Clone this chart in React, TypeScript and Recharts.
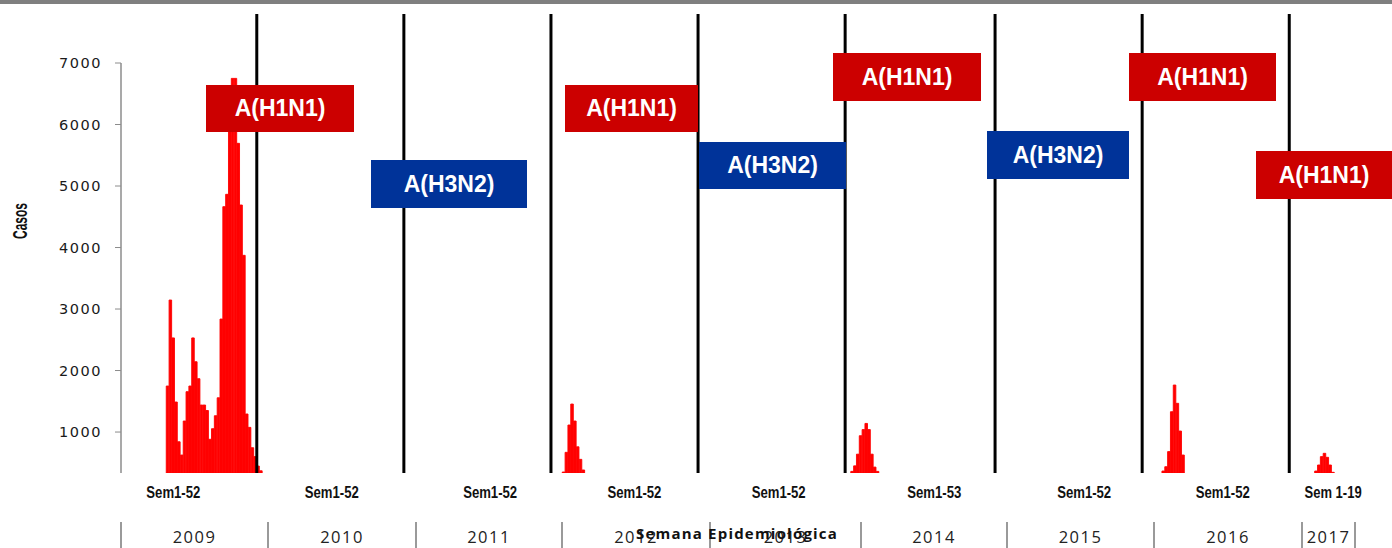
import React from 'react';
import { BarChart, Bar, XAxis, YAxis, ReferenceLine } from 'recharts';

// años y semanas epidemiológicas mostradas
const years = ['2009', '2010', '2011', '2012', '2013', '2014', '2015', '2016', '2017'];
const weeksPerYear = [52, 52, 52, 52, 52, 53, 52, 52, 19];
const firstWeekShown = [5, 1, 1, 1, 1, 1, 1, 1, 1];
const semLabels = ['Sem1-52', 'Sem1-52', 'Sem1-52', 'Sem1-52', 'Sem1-52', 'Sem1-53', 'Sem1-52', 'Sem1-52', 'Sem 1-19'];
const semLabelWeek = [23, 27, 31, 30, 29, 32, 32, 29, 16];

// casos por semana, desde la primera semana con casos de cada temporada
const cases2009 = [
  1748, 3146, 2530, 1488, 842, 626, 1179, 1656, 1748, 2530, 2143, 1867, 1439, 1439, 1350, 882,
  1054, 1265, 1557, 2837, 4664, 4865, 6250, 6750, 6750, 5694, 4691, 3873, 1293, 1076, 745, 600,
];
const cases2010 = [447, 370];
const cases2012 = [350, 670, 1114, 1455, 1179, 760, 556, 383];
const cases2014 = [360, 450, 640, 940, 1040, 1140, 1040, 640, 430, 360];
const cases2016 = [366, 436, 682, 1330, 1764, 1467, 1016, 626];
const cases2017 = [366, 464, 600, 654, 589, 464, 345];

const seasonStartWeek = [21, 1, 0, 5, 0, 3, 0, 8, 10];
const seasonCases = [cases2009, cases2010, [], cases2012, [], cases2014, [], cases2016, cases2017];

const yTicks = [1000, 2000, 3000, 4000, 5000, 6000, 7000];

const subtypeLabels = ['A(H1N1)', 'A(H3N2)', 'A(H1N1)', 'A(H3N2)', 'A(H1N1)', 'A(H3N2)', 'A(H1N1)', 'A(H1N1)'];
const subtypeKinds = ['h1', 'h3', 'h1', 'h3', 'h1', 'h3', 'h1', 'h1'];

const rows = years.flatMap((year, i) => {
  const out: { key: string; casos: number | null }[] = [];
  for (let w = firstWeekShown[i]; w <= weeksPerYear[i]; w++) {
    const list = seasonCases[i];
    const v = list.length ? list[w - seasonStartWeek[i]] : undefined;
    out.push({ key: `${year}-${w}`, casos: v ?? null });
  }
  return out;
});
const tickKeys = years.map((y, i) => `${y}-${semLabelWeek[i]}`);

// layout de las cajas de subtipo (px)
const boxes = [
  { left: 206, top: 85, width: 148, height: 47 },
  { left: 371, top: 160, width: 156, height: 48 },
  { left: 565, top: 85, width: 133, height: 47 },
  { left: 699, top: 142, width: 147, height: 47 },
  { left: 833, top: 53, width: 148, height: 48 },
  { left: 987, top: 131, width: 142, height: 48 },
  { left: 1129, top: 53, width: 147, height: 48 },
  { left: 1256, top: 151, width: 136, height: 48 },
];
const yearSeparators = [121, 268, 416, 562, 710, 861, 1007, 1154, 1302, 1355];

const Y_MIN = 334;
const Y_MAX = 7000;
const LINE_TOP = 7797;
const bold = "'Liberation Sans', Arial, sans-serif";

const SemTick = (props: any) => {
  const { x, y, payload } = props;
  const idx = tickKeys.indexOf(payload.value);
  const label = semLabels[idx];
  return (
    <text
      x={x}
      y={y + 17}
      textAnchor="middle"
      fontFamily={bold}
      fontWeight="bold"
      fontSize={16}
      fill="#111"
      textLength={label.length > 7 ? 57 : 54}
      lengthAdjust="spacingAndGlyphs"
    >
      {label}
    </text>
  );
};

export default function App() {
  return (
    <div style={{ position: 'absolute', left: 0, top: 0, width: 1392, height: 548, background: '#fff', overflow: 'hidden' }}>
      <div style={{ position: 'absolute', left: 0, top: 0, width: 1392, height: 4, background: '#7f7f7f' }} />
      <BarChart
        width={1392}
        height={548}
        data={rows}
        margin={{ top: 63, right: 49, bottom: 35, left: 0 }}
        barCategoryGap={0}
        barGap={0}
      >
        <XAxis
          dataKey="key"
          ticks={tickKeys}
          interval={0}
          axisLine={false}
          tickLine={false}
          height={40}
          tick={<SemTick />}
        />
        <YAxis
          width={121}
          domain={[Y_MIN, Y_MAX]}
          allowDataOverflow
          ticks={yTicks}
          interval={0}
          tickSize={6}
          tickMargin={13}
          axisLine={{ stroke: '#8c8c8c', strokeWidth: 1.5 }}
          tickLine={{ stroke: '#8c8c8c', strokeWidth: 1 }}
          tick={{ fontFamily: 'DejaVu Sans', fontSize: 14.5, fill: '#1a1a1a', letterSpacing: 1.5 }}
          label={{
            content: () => (
              <text
                x={20}
                y={221}
                transform="rotate(-90 20 221)"
                textAnchor="middle"
                dominantBaseline="central"
                fontFamily={bold}
                fontWeight="bold"
                fontSize={20}
                fill="#111"
                textLength={36}
                lengthAdjust="spacingAndGlyphs"
              >
                Casos
              </text>
            ),
          }}
        />
        <Bar
          dataKey="casos"
          fill="#FF0000"
          stroke="#FF0000"
          strokeWidth={0.9}
          barSize={3}
          isAnimationActive={false}
        />
        {years.slice(1).map((y) => (
          <ReferenceLine
            key={y}
            segment={[
              { x: `${y}-1`, y: Y_MIN },
              { x: `${y}-1`, y: LINE_TOP },
            ]}
            position="start"
            ifOverflow="visible"
            stroke="#000"
            strokeWidth={3}
          />
        ))}
      </BarChart>

      {boxes.map((b, i) => (
        <div
          key={i}
          style={{
            position: 'absolute',
            left: b.left,
            top: b.top,
            width: b.width,
            height: b.height,
            background: subtypeKinds[i] === 'h1' ? '#CC0000' : '#003399',
            color: '#fff',
            fontFamily: bold,
            fontWeight: 'bold',
            fontSize: 23,
            display: 'flex',
            alignItems: 'center',
            justifyContent: 'center',
          }}
        >
          {subtypeLabels[i]}
        </div>
      ))}

      {yearSeparators.map((x, i) => (
        <div key={`s${i}`} style={{ position: 'absolute', left: x - 1, top: 522, width: 1.5, height: 26, background: '#9a9a9a' }} />
      ))}
      {years.map((y, i) => (
        <div
          key={`y${y}`}
          style={{
            position: 'absolute',
            left: yearSeparators[i],
            width: yearSeparators[i + 1] - yearSeparators[i],
            top: 528,
            textAlign: 'center',
            fontFamily: "'Open Sans', sans-serif",
            fontSize: 16.5,
            letterSpacing: 1.5,
            color: '#222',
            lineHeight: '17px',
          }}
        >
          {y}
        </div>
      ))}
      <div
        style={{
          position: 'absolute',
          left: 557,
          width: 360,
          top: 524,
          textAlign: 'center',
          fontFamily: "'Open Sans', sans-serif",
          fontWeight: 'bold',
          fontSize: 15,
          letterSpacing: 1.2,
          color: '#111',
          lineHeight: '18px',
        }}
      >
        Semana Epidemiológica
      </div>
    </div>
  );
}
